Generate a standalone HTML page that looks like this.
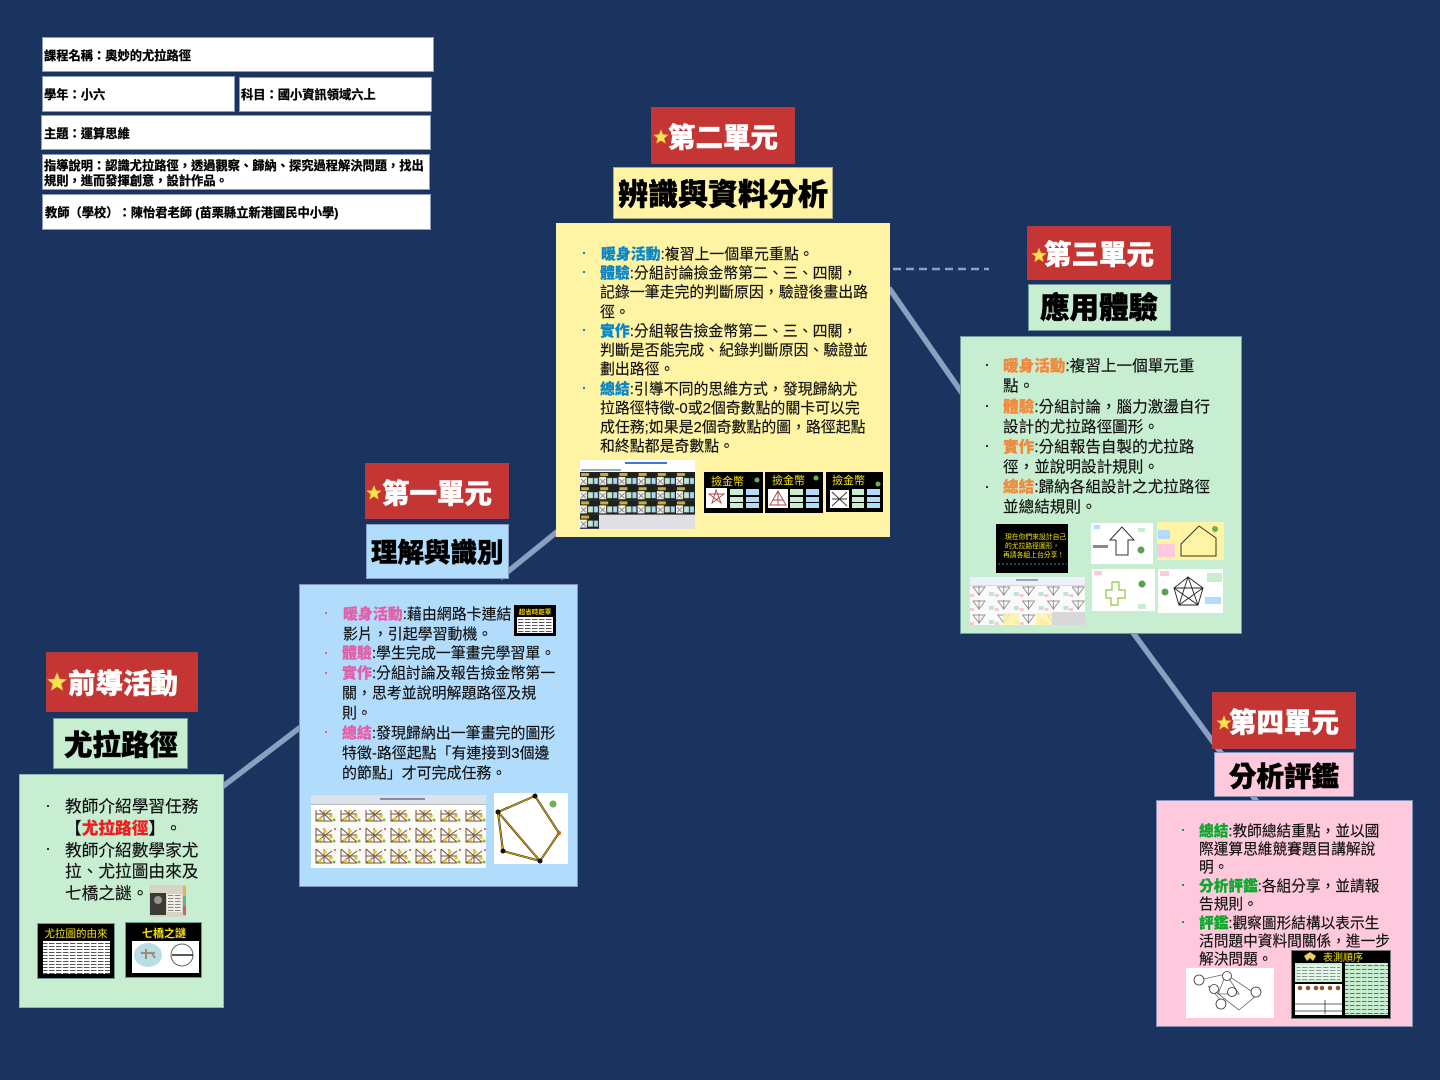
<!DOCTYPE html>
<html lang="zh-Hant"><head><meta charset="utf-8"><title>奧妙的尤拉路徑</title>
<style>
html,body{margin:0;padding:0}
body{width:1440px;height:1080px;overflow:hidden;background:#1b335f;position:relative;font-family:"Liberation Sans","Noto Sans CJK TC",sans-serif;color:#111;text-spacing-trim:space-all;text-autospace:no-autospace}
svg{position:absolute;left:0;top:0}
.b{position:absolute;box-sizing:border-box;border:1px solid #7f93b4}
.h{background:#fff;border-color:#8a9cbb}
.red{background:#c43533;border-color:#b33a3c}
.g{background:#c8eed2}.y{background:#fff4a3}.l{background:#b2dcfc}.p{background:#fec9dd}
.t{position:absolute;white-space:nowrap;line-height:1;-webkit-text-stroke:.15px currentColor}
.hd{font-size:12.25px;font-weight:700;color:#000;-webkit-text-stroke:.3px #000}
.r{font-size:27.5px;font-weight:900;color:#fff;margin-top:1px;-webkit-text-stroke:.4px #fff}
.k{font-weight:900;color:#000;margin-top:2px;-webkit-text-stroke:.5px #000}
.u0{font-size:16.7px;margin-top:2px}.u1{font-size:14.95px;margin-top:2px}.u2{font-size:14.9px;margin-top:2px}.u3{font-size:15.6px;margin-top:1px}.u4{font-size:14.7px;margin-top:2px}
b.c0{color:#ee1c1c}b.c1{color:#e35fa9}b.c2{color:#0b86c6}b.c3{color:#ef8a3d}b.c4{color:#0aa82c}
b{font-weight:900}
.d{position:absolute;width:2px;height:2px}
</style></head><body>
<svg width="1440" height="1080" viewBox="0 0 1440 1080">
<g stroke="#8aa0c0" stroke-width="5.5" fill="none">
<line x1="222" y1="787" x2="302" y2="726"/>
<line x1="500" y1="578" x2="558" y2="531"/>
<line x1="889" y1="288" x2="962" y2="393"/>
<line x1="1131" y1="630" x2="1260" y2="806"/>
</g>
<line x1="893" y1="269" x2="989" y2="269" stroke="#8aa0c0" stroke-width="2.5" stroke-dasharray="8 5"/>
</svg>

<div class="b h" style="left:42px;top:37px;width:392px;height:35px"></div>
<div class="b h" style="left:42px;top:76px;width:193px;height:36px"></div>
<div class="b h" style="left:239px;top:77px;width:193px;height:35px"></div>
<div class="b h" style="left:41px;top:115px;width:390px;height:35px"></div>
<div class="b h" style="left:42px;top:154px;width:388px;height:36px"></div>
<div class="b h" style="left:42px;top:194px;width:389px;height:36px"></div>
<div class="t hd" style="left:44px;top:50px">課程名稱：奧妙的尤拉路徑</div>
<div class="t hd" style="left:44px;top:89px">學年：小六</div>
<div class="t hd" style="left:241px;top:89px">科目：國小資訊領域六上</div>
<div class="t hd" style="left:44px;top:128px">主題：運算思維</div>
<div class="t hd" style="left:44px;top:160px">指導說明：認識尤拉路徑，透過觀察、歸納、探究過程解決問題，找出</div>
<div class="t hd" style="left:44px;top:175px">規則，進而發揮創意，設計作品。</div>
<div class="t hd" style="left:45px;top:207px">教師（學校）：陳怡君老師 (苗栗縣立新港國民中小學)</div>

<!-- unit 0 -->
<div class="b red" style="left:46px;top:652px;width:152px;height:60px"></div>
<div class="t r" style="left:68px;top:669px">前導活動</div>
<div class="b g" style="left:53px;top:718px;width:135px;height:51px;border-color:#6f9a9a"></div>
<div class="t k" style="left:64px;top:730px;font-size:28.5px">尤拉路徑</div>
<div class="b g" style="left:19px;top:774px;width:205px;height:234px;border-color:#8fb8b0"></div>
<div class="d" style="left:47px;top:805px;background:#333"></div>
<div class="d" style="left:47px;top:848px;background:#333"></div>
<div class="t u0" style="left:65px;top:797px">教師介紹學習任務</div>
<div class="t u0" style="left:65px;top:819px">【<b class="c0">尤拉路徑</b>】。</div>
<div class="t u0" style="left:65px;top:841px">教師介紹數學家尤</div>
<div class="t u0" style="left:65px;top:862px">拉、尤拉圖由來及</div>
<div class="t u0" style="left:65px;top:884px">七橋之謎。</div>

<!-- unit 1 -->
<div class="b red" style="left:365px;top:463px;width:144px;height:56px"></div>
<div class="t r" style="left:382px;top:479px">第一單元</div>
<div class="b l" style="left:366px;top:524px;width:143px;height:55px;border-color:#8aa0c0"></div>
<div class="t k" style="left:371px;top:538px;font-size:26.5px">理解與識別</div>
<div class="b l" style="left:299px;top:584px;width:279px;height:303px"></div>
<div class="d" style="left:325px;top:612px;background:#e35fa9"></div>
<div class="d" style="left:325px;top:652px;background:#e35fa9"></div>
<div class="d" style="left:325px;top:672px;background:#e35fa9"></div>
<div class="d" style="left:325px;top:731px;background:#e35fa9"></div>
<div class="t u1" style="left:343px;top:606px"><b class="c1">暖身活動</b>:藉由網路卡連結</div>
<div class="t u1" style="left:343px;top:626px">影片，引起學習動機。</div>
<div class="t u1" style="left:342px;top:645px"><b class="c1">體驗</b>:學生完成一筆畫完學習單。</div>
<div class="t u1" style="left:342px;top:665px"><b class="c1">實作</b>:分組討論及報告撿金幣第一</div>
<div class="t u1" style="left:342px;top:685px">關，思考並說明解題路徑及規</div>
<div class="t u1" style="left:342px;top:705px">則。</div>
<div class="t u1" style="left:342px;top:725px"><b class="c1">總結</b>:發現歸納出一筆畫完的圖形</div>
<div class="t u1" style="left:342px;top:745px">特徵-路徑起點「有連接到3個邊</div>
<div class="t u1" style="left:342px;top:765px">的節點」才可完成任務。</div>

<!-- unit 2 -->
<div class="b red" style="left:651px;top:107px;width:144px;height:57px"></div>
<div class="t r" style="left:668px;top:123px">第二單元</div>
<div class="b y" style="left:613px;top:167px;width:220px;height:52px;border-color:#a9a88a"></div>
<div class="t k" style="left:618px;top:179px;font-size:30px">辨識與資料分析</div>
<div class="b y" style="left:556px;top:223px;width:334px;height:314px;border:0"></div>
<div class="d" style="left:583px;top:252px;background:#0b86c6"></div>
<div class="d" style="left:583px;top:271px;background:#0b86c6"></div>
<div class="d" style="left:583px;top:329px;background:#0b86c6"></div>
<div class="d" style="left:583px;top:387px;background:#0b86c6"></div>
<div class="t u2" style="left:601px;top:246px"><b class="c2">暖身活動</b>:複習上一個單元重點。</div>
<div class="t u2" style="left:600px;top:265px"><b class="c2">體驗</b>:分組討論撿金幣第二、三、四關，</div>
<div class="t u2" style="left:600px;top:284px">記錄一筆走完的判斷原因，驗證後畫出路</div>
<div class="t u2" style="left:600px;top:304px">徑。</div>
<div class="t u2" style="left:600px;top:323px"><b class="c2">實作</b>:分組報告撿金幣第二、三、四關，</div>
<div class="t u2" style="left:600px;top:342px">判斷是否能完成、紀錄判斷原因、驗證並</div>
<div class="t u2" style="left:600px;top:361px">劃出路徑。</div>
<div class="t u2" style="left:600px;top:381px"><b class="c2">總結</b>:引導不同的思維方式，發現歸納尤</div>
<div class="t u2" style="left:600px;top:400px">拉路徑特徵-0或2個奇數點的關卡可以完</div>
<div class="t u2" style="left:600px;top:419px">成任務;如果是2個奇數點的圖，路徑起點</div>
<div class="t u2" style="left:600px;top:438px">和終點都是奇數點。</div>

<!-- unit 3 -->
<div class="b red" style="left:1027px;top:226px;width:144px;height:54px"></div>
<div class="t r" style="left:1044px;top:240px">第三單元</div>
<div class="b g" style="left:1028px;top:284px;width:143px;height:47px;border-color:#6f9a9a"></div>
<div class="t k" style="left:1040px;top:292px;font-size:29.5px">應用體驗</div>
<div class="b g" style="left:960px;top:336px;width:282px;height:298px;border-color:#6f9a9a"></div>
<div class="d" style="left:986px;top:364px;background:#333"></div>
<div class="d" style="left:986px;top:405px;background:#333"></div>
<div class="d" style="left:986px;top:445px;background:#333"></div>
<div class="d" style="left:986px;top:486px;background:#333"></div>
<div class="t u3" style="left:1003px;top:358px"><b class="c3">暖身活動</b>:複習上一個單元重</div>
<div class="t u3" style="left:1003px;top:378px">點。</div>
<div class="t u3" style="left:1003px;top:399px"><b class="c3">體驗</b>:分組討論，腦力激盪自行</div>
<div class="t u3" style="left:1003px;top:419px">設計的尤拉路徑圖形。</div>
<div class="t u3" style="left:1003px;top:439px"><b class="c3">實作</b>:分組報告自製的尤拉路</div>
<div class="t u3" style="left:1003px;top:459px">徑，並說明設計規則。</div>
<div class="t u3" style="left:1003px;top:479px"><b class="c3">總結</b>:歸納各組設計之尤拉路徑</div>
<div class="t u3" style="left:1003px;top:499px">並總結規則。</div>

<!-- unit 4 -->
<div class="b red" style="left:1212px;top:692px;width:144px;height:57px"></div>
<div class="t r" style="left:1229px;top:708px">第四單元</div>
<div class="b p" style="left:1214px;top:752px;width:140px;height:45px"></div>
<div class="t k" style="left:1229px;top:761px;font-size:27.5px">分析評鑑</div>
<div class="b p" style="left:1156px;top:800px;width:257px;height:227px"></div>
<div class="d" style="left:1182px;top:829px;background:#0aa82c"></div>
<div class="d" style="left:1182px;top:884px;background:#0aa82c"></div>
<div class="d" style="left:1182px;top:921px;background:#0aa82c"></div>
<div class="t u4" style="left:1199px;top:823px"><b class="c4">總結</b>:教師總結重點，並以國</div>
<div class="t u4" style="left:1199px;top:841px">際運算思維競賽題目講解說</div>
<div class="t u4" style="left:1199px;top:859px">明。</div>
<div class="t u4" style="left:1199px;top:878px"><b class="c4">分析評鑑</b>:各組分享，並請報</div>
<div class="t u4" style="left:1199px;top:896px">告規則。</div>
<div class="t u4" style="left:1199px;top:915px"><b class="c4">評鑑</b>:觀察圖形結構以表示生</div>
<div class="t u4" style="left:1199px;top:933px">活問題中資料間關係，進一步</div>
<div class="t u4" style="left:1199px;top:951px">解決問題。</div>

<svg width="1440" height="1080" viewBox="0 0 1440 1080" font-family="'Liberation Sans','Noto Sans CJK TC',sans-serif">
<defs>
<pattern id="tileA" x="580" y="472" width="19.2" height="14.2" patternUnits="userSpaceOnUse">
<rect width="19.2" height="14.2" fill="#20201c"/><rect x="1" y="1" width="8" height="3" fill="#c8b030"/>
<rect y="5" width="7" height="8" fill="#f4f4f4"/><rect x="8" y="6" width="5" height="6" fill="#bfe6cc"/><rect x="14" y="6" width="4" height="6" fill="#a8d8f5"/>
<path d="M1 7l5 5M6 7l-5 5" stroke="#765" stroke-width=".8"/>
</pattern>
<pattern id="tileB" x="970" y="584" width="24.8" height="14" patternUnits="userSpaceOnUse">
<rect width="24.8" height="14" fill="#fafafa"/><path d="M3 3h12l-6 8zM9 2v10" fill="none" stroke="#777" stroke-width=".7"/><rect x="19" y="8" width="5" height="4" fill="#bfe6cc"/><rect x="0" y="10" width="4" height="3" fill="#f6c8d8"/>
</pattern>
<pattern id="tileC" x="313" y="805" width="25" height="21" patternUnits="userSpaceOnUse">
<rect width="25" height="21" fill="#fbfbf6"/><path d="M3 2l16 14M3 2v14h16M19 4l-16 12M3 9h16M11 2v14" fill="none" stroke="#75503a" stroke-width="1"/><circle cx="12" cy="5" r="1.8" fill="#e5c92b"/><circle cx="18" cy="11" r="1.8" fill="#e5c92b"/><circle cx="7" cy="14" r="1.8" fill="#e5c92b"/><circle cx="21" cy="15" r="1.5" fill="#7bb84b"/><circle cx="22" cy="3" r="1" fill="#e04040"/>
</pattern>
<pattern id="noise" width="7" height="3" patternUnits="userSpaceOnUse"><rect width="7" height="3" fill="#fff"/><rect y="1" width="5.5" height="1" fill="#555"/></pattern>
<pattern id="noise2" width="6" height="4" patternUnits="userSpaceOnUse"><rect width="6" height="4" fill="#c8eed2"/><rect y="1" width="4.5" height="1" fill="#1a86c8"/></pattern>
</defs>

<!-- stars -->
<g fill="#f7e34f" stroke="#e8a83a" stroke-width=".5">
<polygon points="57,672.500 59.600,679 66.500,679.400 61.200,683.800 62.900,690.500 57,686.800 51.100,690.500 52.800,683.800 47.500,679.400 54.400,679"/>
<polygon points="661,129.500 663,134.500 668.300,134.800 664.200,138.200 665.500,143.400 661,140.500 656.500,143.400 657.800,138.200 653.700,134.800 659,134.500"/>
<polygon points="374,485.500 376,490.500 381.300,490.800 377.200,494.200 378.500,499.400 374,496.500 369.500,499.400 370.800,494.200 366.700,490.800 372,490.500"/>
<polygon points="1039,248 1041,253 1046.300,253.300 1042.200,256.700 1043.500,261.900 1039,259 1034.500,261.900 1035.800,256.700 1031.700,253.300 1037,253"/>
<polygon points="1224,715.500 1226,720.500 1231.300,720.800 1227.200,724.200 1228.500,729.400 1224,726.500 1219.500,729.400 1220.800,724.200 1216.700,720.800 1222,720.500"/>
</g>

<!-- unit 0 thumbs -->
<rect x="149" y="885" width="37" height="32" fill="#d8d4c4"/><rect x="150" y="893" width="16" height="22" fill="#3a3a38"/><circle cx="158" cy="900" r="4" fill="#9a9488"/><rect x="167" y="894" width="15" height="18" fill="url(#noise)" opacity=".6"/><rect x="183" y="886" width="3" height="10" fill="#f0b040"/><rect x="183" y="896" width="3" height="10" fill="#58b890"/><rect x="183" y="906" width="3" height="9" fill="#d06060"/>
<rect x="37.500" y="923.500" width="77" height="55" fill="#000" stroke="#6f9a9a"/><text x="76" y="937" text-anchor="middle" font-size="10.500" fill="#f5e400">尤拉圖的由來</text><rect x="43" y="941" width="67" height="33" fill="url(#noise)"/>
<rect x="125.500" y="922.500" width="76" height="55" fill="#000" stroke="#6f9a9a"/><text x="164" y="937" text-anchor="middle" font-size="11" font-weight="700" fill="#f5e400">七橋之謎</text><rect x="132" y="941" width="67" height="32" fill="#fff"/><ellipse cx="148" cy="955" rx="14" ry="12" fill="#b9dde4"/><path d="M141 953h14M146 949v10M151 952l4 6" stroke="#a08c78" stroke-width="2" fill="none"/><circle cx="182" cy="955" r="11" fill="none" stroke="#666"/><path d="M172 955h21" stroke="#222" stroke-width="1.500"/>

<!-- unit 1 thumbs -->
<rect x="514" y="605" width="42" height="31" fill="#000"/><text x="535" y="614" text-anchor="middle" font-size="6.500" font-weight="700" fill="#f0d000">超省時距單</text><rect x="517" y="617" width="36" height="16" fill="url(#noise)"/>
<rect x="311" y="795" width="175" height="73" fill="#fff"/><rect x="311" y="795" width="175" height="9" fill="#dde1e8"/><rect x="311" y="804" width="175" height="1" fill="#bbb"/><rect x="380" y="798" width="45" height="2" fill="#88a"/><rect x="313" y="810" width="173" height="58" fill="url(#tileC)"/><rect x="311" y="805" width="175" height="5" fill="#fff"/>
<rect x="494" y="793" width="74" height="71" fill="#fff"/><path d="M498 812L535 796L559 833L540 861L503 851ZM498 812L540 861" fill="none" stroke="#111" stroke-width="2"/><path d="M498 812L535 796L559 833L540 861L503 851ZM498 812L540 861" fill="none" stroke="#e8b000" stroke-width="1"/><circle cx="498" cy="812" r="2.500" fill="#111"/><circle cx="535" cy="796" r="2.500" fill="#111"/><circle cx="503" cy="851" r="2.500" fill="#111"/><circle cx="540" cy="861" r="2.500" fill="#111"/><circle cx="559" cy="833" r="2" fill="#c60"/><circle cx="553" cy="804" r="3.500" fill="#6cb050"/>

<!-- unit 2 thumbs -->
<rect x="580" y="460" width="115" height="69" fill="#e0e0e4"/><rect x="580" y="460" width="115" height="12" fill="#fff"/><rect x="625" y="462" width="42" height="2" fill="#3b78d8"/><rect x="581" y="469" width="40" height="2" fill="#9ab"/>
<rect x="580" y="472" width="115" height="28.400" fill="url(#tileA)"/><rect x="580" y="500.400" width="115" height="14.200" fill="url(#tileA)"/><rect x="580" y="514.600" width="19" height="14.200" fill="url(#tileA)"/>
<g><rect x="704" y="472" width="59" height="41" fill="#000"/><text x="711" y="485" font-size="11" fill="#f5e400">撿金幣</text><rect x="706" y="488" width="21" height="20" fill="#fff"/><path d="M709 494h15l-12 9 4-13 5 13z" fill="none" stroke="#a44" stroke-width=".9"/><rect x="730" y="489" width="13" height="6" fill="#c8eed2"/><rect x="730" y="497" width="13" height="5" fill="#c8eed2"/><rect x="730" y="503" width="13" height="5" fill="#c8eed2"/><rect x="746" y="489" width="13" height="6" fill="#b2dcfc"/><rect x="746" y="497" width="13" height="5" fill="#b2dcfc"/><rect x="746" y="503" width="13" height="5" fill="#b2dcfc"/><circle cx="757" cy="480" r="2.500" fill="#6cb050"/></g>
<g><rect x="765" y="472" width="58" height="41" fill="#000"/><text x="772" y="484" font-size="11" fill="#f5e400">撿金幣</text><rect x="768" y="489" width="20" height="19" fill="#fff"/><path d="M778 491l-8 14h16zM778 491v14M773 500h10" fill="none" stroke="#a44" stroke-width=".9"/><rect x="790" y="489" width="13" height="6" fill="#c8eed2"/><rect x="790" y="497" width="13" height="5" fill="#c8eed2"/><rect x="790" y="503" width="13" height="5" fill="#c8eed2"/><rect x="806" y="489" width="13" height="6" fill="#b2dcfc"/><rect x="806" y="497" width="13" height="5" fill="#b2dcfc"/><rect x="806" y="503" width="13" height="5" fill="#b2dcfc"/><circle cx="816" cy="478" r="2.500" fill="#6cb050"/></g>
<g><rect x="826" y="472" width="57" height="40" fill="#000"/><text x="832" y="484" font-size="11" fill="#f5e400">撿金幣</text><rect x="830" y="490" width="19" height="18" fill="#fff"/><path d="M832 492l15 14M847 492l-15 14M832 499h15" fill="none" stroke="#333" stroke-width=".9"/><rect x="852" y="489" width="12" height="6" fill="#c8eed2"/><rect x="852" y="497" width="12" height="5" fill="#c8eed2"/><rect x="852" y="503" width="12" height="5" fill="#c8eed2"/><rect x="867" y="489" width="13" height="6" fill="#b2dcfc"/><rect x="867" y="497" width="13" height="5" fill="#b2dcfc"/><rect x="867" y="503" width="13" height="5" fill="#b2dcfc"/><circle cx="878" cy="484" r="2.500" fill="#6cb050"/></g>

<!-- unit 3 thumbs -->
<rect x="996" y="524" width="72" height="49" fill="#000"/><g font-size="6.800" fill="#f5e400"><text x="1005" y="539">現在你們來設計自己</text><text x="1005" y="548">的尤拉路徑圖形，</text><text x="1003" y="557">再請各組上台分享！</text></g><line x1="998" y1="564" x2="1067" y2="564" stroke="#3b78d8" stroke-dasharray="2 2"/>
<rect x="1091" y="523" width="62" height="41" fill="#fff"/><path d="M1122 527l-12 13 6 0v15h12v-15h6z" fill="none" stroke="#333" stroke-width="1"/><rect x="1094" y="525" width="6" height="4" fill="#b2dcfc"/><rect x="1138" y="528" width="7" height="4" fill="#c8eed2"/><rect x="1093" y="545" width="15" height="3" fill="#888"/><circle cx="1141" cy="550" r="3.500" fill="#5aa050"/>
<rect x="1157" y="522" width="67" height="38" fill="#fff4a3"/><path d="M1181 556v-12l18-18 17 12v18zM1181 556h35" fill="none" stroke="#333"/><rect x="1158" y="530" width="12" height="9" fill="#b2dcfc"/><rect x="1157" y="544" width="18" height="13" fill="#fec9dd"/><circle cx="1215" cy="529" r="3" fill="#6cb050"/>
<rect x="970" y="577" width="115" height="48" fill="#d8d8da"/><rect x="970" y="577" width="115" height="8" fill="#eef2f8"/><rect x="1016" y="579" width="22" height="2" fill="#8ab"/><rect x="970" y="586" width="115" height="26" fill="url(#tileB)"/><rect x="970" y="612" width="82" height="13" fill="url(#tileB)"/><rect x="1003" y="613" width="16" height="12" fill="#fff4a3" opacity=".8"/><rect x="1036" y="613" width="16" height="12" fill="#fff4a3" opacity=".8"/>
<rect x="1092" y="569" width="63" height="42" fill="#fff"/><path d="M1112 582h7v8h6v8h-7v7h-7v-7h-5v-8h6z" fill="none" stroke="#8cc63f" stroke-width="1.200"/><rect x="1094" y="571" width="8" height="4" fill="#fec9dd"/><rect x="1138" y="604" width="8" height="5" fill="#c8eed2"/><circle cx="1142" cy="584" r="3.500" fill="#5aa050"/>
<rect x="1158" y="569" width="65" height="44" fill="#fff"/><path d="M1188 577l-14 11 5 17h19l5-17zM1188 577l-9 28M1188 577l10 28M1174 588h29M1174 588l24 17M1203 588l-24 17" fill="none" stroke="#222" stroke-width=".9"/><rect x="1160" y="571" width="9" height="5" fill="#fec9dd"/><rect x="1207" y="573" width="15" height="9" fill="#c8eed2"/><rect x="1205" y="597" width="16" height="7" fill="#b2dcfc"/><circle cx="1165" cy="592" r="3.500" fill="#5aa050"/>

<!-- unit 4 thumbs -->
<rect x="1186" y="968" width="88" height="50" fill="#fff"/><path d="M1199 980l27-6 31 21-18 15-31-24 17 19M1226 974l-8 20 21 0-13-20" fill="none" stroke="#666" stroke-width=".8"/><g fill="#fff" stroke="#333" stroke-width=".8"><circle cx="1199" cy="980" r="5"/><circle cx="1227" cy="976" r="4.500"/><circle cx="1214" cy="989" r="4.500"/><circle cx="1232" cy="992" r="4.500"/><circle cx="1256" cy="992" r="5"/><circle cx="1221" cy="1004" r="5"/></g>
<rect x="1291.500" y="950.500" width="99" height="68" fill="#000" stroke="#777"/><text x="1323" y="961" font-size="10" fill="#f5e400">表測順序</text><path d="M1310 952l6 4-3 5-3-3-3 3-3-5z" fill="#e8cf60"/>
<rect x="1295" y="963" width="47" height="19" fill="#c8eed2"/><rect x="1297" y="965" width="43" height="15" fill="url(#noise)" opacity=".55"/><rect x="1295" y="984" width="47" height="31" fill="#fff"/><g fill="#8a5a2c"><circle cx="1300" cy="988" r="2.300"/><circle cx="1308" cy="988" r="2.300"/><circle cx="1316" cy="988" r="2.300"/><circle cx="1322" cy="988" r="2.300"/><circle cx="1330" cy="988" r="2.300"/><circle cx="1338" cy="988" r="2.300"/></g><path d="M1295 1004h47M1295 1011h47M1325 1000v14" stroke="#333" stroke-width=".8"/>
<rect x="1345" y="963" width="43" height="52" fill="url(#noise2)"/>
</svg>
</body></html>
